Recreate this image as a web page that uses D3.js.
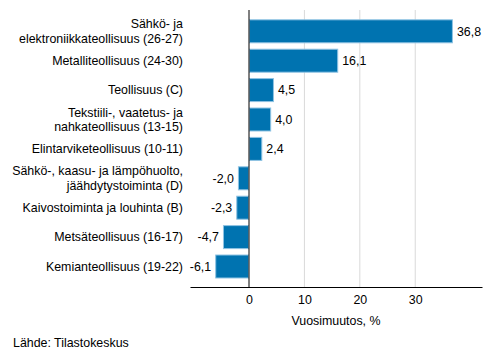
<!DOCTYPE html>
<html><head><meta charset="utf-8">
<script src="https://cdn.jsdelivr.net/npm/d3@7"></script>
<style>body{margin:0;background:#fff;} text{font-family:"Liberation Sans",Arial,sans-serif;}</style>
</head><body>
<svg id="c" width="493" height="360"></svg>
<script>
const categories = [
  ["Sähkö- ja", "elektroniikkateollisuus (26-27)"],
  ["Metalliteollisuus (24-30)"],
  ["Teollisuus (C)"],
  ["Tekstiili-, vaatetus- ja", "nahkateollisuus (13-15)"],
  ["Elintarviketeollisuus (10-11)"],
  ["Sähkö-, kaasu- ja lämpöhuolto,", "jäähdytystoiminta (D)"],
  ["Kaivostoiminta ja louhinta (B)"],
  ["Metsäteollisuus (16-17)"],
  ["Kemianteollisuus (19-22)"]
];
const values = [36.8, 16.1, 4.5, 4.0, 2.4, -2.0, -2.3, -4.7, -6.1];
const xTicks = [0, 10, 20, 30];
const axisTitle = "Vuosimuutos, %";
const source = "Lähde: Tilastokeskus";

const FS = 12.4;
const svg = d3.select("#c");
const x = d3.scaleLinear().domain([-10.65, 42.05]).range([190, 482]);
const y = d3.scaleBand().domain(d3.range(categories.length)).range([16.6, 281.2]).paddingInner(0.184).paddingOuter(0.092);
const fmt = v => d3.format(".1f")(v).replace(".", ",").replace("−","-");

// gridlines
svg.append("g").selectAll("line").data(xTicks.filter(t => t !== 0)).join("line")
  .attr("x1", d => x(d)).attr("x2", d => x(d)).attr("y1", 10).attr("y2", 287)
  .attr("stroke", "#d9d9d9").attr("stroke-width", 1);

// bars
svg.append("g").selectAll("rect").data(values).join("rect")
  .attr("x", d => Math.min(x(0), x(d)) + 0.5)
  .attr("y", (d, i) => y(i) + 0.5)
  .attr("width", d => Math.abs(x(d) - x(0)) - 1)
  .attr("height", y.bandwidth() - 1)
  .attr("fill", "#0073b0").attr("stroke", "#8fc3e3").attr("stroke-width", 1);

// value labels
svg.append("g").selectAll("text").data(values).join("text")
  .attr("x", d => d >= 0 ? x(d) + 4 : x(d) - 4)
  .attr("y", (d, i) => y(i) + y.bandwidth() / 2)
  .attr("dy", "0.35em")
  .attr("text-anchor", d => d >= 0 ? "start" : "end")
  .attr("font-size", FS).attr("fill", "#000")
  .text(d => fmt(d));

// category labels
const cl = svg.append("g").selectAll("text").data(categories).join("text")
  .attr("text-anchor", "end").attr("font-size", FS).attr("fill", "#000")
  .attr("y", (d, i) => y(i) + y.bandwidth() / 2);
cl.each(function(d) {
  const t = d3.select(this);
  const n = d.length, lh = 14.5;
  d.forEach((line, j) => {
    t.append("tspan").attr("x", 183)
      .attr("dy", j === 0 ? (0.35 * FS - (n - 1) * lh / 2) : lh)
      .text(line);
  });
});

// zero line
svg.append("line").attr("x1", x(0)).attr("x2", x(0)).attr("y1", 10).attr("y2", 287)
  .attr("stroke", "#000").attr("stroke-width", 1);

// x axis
const ax = svg.append("g").attr("transform", "translate(0,287)")
  .call(d3.axisBottom(x).tickValues(xTicks).tickSize(0).tickPadding(8).tickFormat(d => d));
ax.select(".domain").attr("stroke", "#000");
ax.selectAll("text").attr("font-size", FS).attr("fill", "#000").attr("font-family", "Liberation Sans, Arial, sans-serif");

svg.append("text").attr("x", (190 + 482) / 2).attr("y", 321).attr("dy", "0.35em")
  .attr("text-anchor", "middle").attr("font-size", FS).text(axisTitle);

svg.append("text").attr("x", 13).attr("y", 343).attr("dy", "0.35em")
  .attr("font-size", FS).text(source);
</script>
</body></html>
